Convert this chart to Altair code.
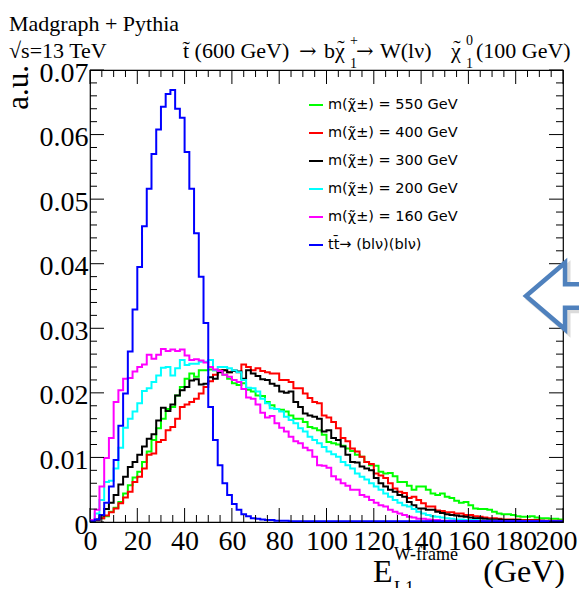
import altair as alt
import pandas as pd

# ---------------- data (2 GeV bins from 0 to 200 GeV) ----------------
bin_low = list(range(0, 200, 2))

green = [0.0001, 0.0003, 0.0006, 0.0009, 0.0016, 0.0022, 0.0031, 0.0044, 0.0057, 0.0069,
         0.0078, 0.0093, 0.0109, 0.0127, 0.0145, 0.0160, 0.0175, 0.0178, 0.0196, 0.0209,
         0.0222, 0.0230, 0.0225, 0.0235, 0.0235, 0.0236, 0.0235, 0.0233, 0.0228, 0.0222,
         0.0215, 0.0212, 0.0215, 0.0205, 0.0202, 0.0196, 0.0195, 0.0186, 0.0181, 0.0175,
         0.0174, 0.0171, 0.0165, 0.0160, 0.0160, 0.0155, 0.0147, 0.0145, 0.0142, 0.0135,
         0.0124, 0.0122, 0.0120, 0.0118, 0.0114, 0.0110, 0.0104, 0.0101, 0.0093, 0.0088,
         0.0087, 0.0078, 0.0075, 0.0076, 0.0071, 0.0062, 0.0062, 0.0056, 0.0050, 0.0055,
         0.0055, 0.0050, 0.0044, 0.0042, 0.0044, 0.0039, 0.0037, 0.0033, 0.0030, 0.0031,
         0.0026, 0.0021, 0.0020, 0.0020, 0.0019, 0.0016, 0.0013, 0.0012, 0.0012, 0.0011,
         0.0009, 0.0008, 0.0008, 0.0009, 0.0007, 0.0006, 0.0006, 0.0005, 0.0005, 0.0004]

red = [0.0001, 0.0003, 0.0006, 0.0010, 0.0015, 0.0021, 0.0029, 0.0038, 0.0047, 0.0062,
       0.0070, 0.0083, 0.0104, 0.0106, 0.0124, 0.0127, 0.0142, 0.0147, 0.0160, 0.0178,
       0.0182, 0.0186, 0.0191, 0.0199, 0.0209, 0.0218, 0.0228, 0.0235, 0.0235, 0.0232,
       0.0235, 0.0232, 0.0244, 0.0240, 0.0235, 0.0238, 0.0234, 0.0232, 0.0230, 0.0230,
       0.0220, 0.0220, 0.0217, 0.0207, 0.0207, 0.0199, 0.0192, 0.0186, 0.0184, 0.0165,
       0.0162, 0.0155, 0.0145, 0.0130, 0.0125, 0.0114, 0.0109, 0.0101, 0.0093, 0.0090,
       0.0075, 0.0072, 0.0068, 0.0060, 0.0052, 0.0047, 0.0045, 0.0037, 0.0039, 0.0034,
       0.0029, 0.0024, 0.0024, 0.0018, 0.0017, 0.0015, 0.0015, 0.0013, 0.0013, 0.0011,
       0.0011, 0.0009, 0.0008, 0.0007, 0.0006, 0.0006, 0.0005, 0.0004, 0.0004, 0.0004,
       0.0004, 0.0003, 0.0003, 0.0003, 0.0003, 0.0002, 0.0002, 0.0002, 0.0002, 0.0002]

black = [0.0001, 0.0004, 0.0010, 0.0020, 0.0030, 0.0042, 0.0058, 0.0070, 0.0085, 0.0093,
         0.0104, 0.0117, 0.0129, 0.0136, 0.0157, 0.0177, 0.0172, 0.0182, 0.0196, 0.0204,
         0.0209, 0.0219, 0.0221, 0.0213, 0.0214, 0.0224, 0.0222, 0.0232, 0.0235, 0.0232,
         0.0234, 0.0233, 0.0222, 0.0235, 0.0230, 0.0226, 0.0221, 0.0220, 0.0214, 0.0211,
         0.0202, 0.0200, 0.0202, 0.0186, 0.0178, 0.0168, 0.0165, 0.0163, 0.0160, 0.0140,
         0.0142, 0.0130, 0.0127, 0.0117, 0.0104, 0.0093, 0.0092, 0.0086, 0.0083, 0.0080,
         0.0068, 0.0060, 0.0055, 0.0050, 0.0047, 0.0042, 0.0039, 0.0031, 0.0026, 0.0021,
         0.0021, 0.0019, 0.0019, 0.0016, 0.0014, 0.0012, 0.0011, 0.0010, 0.0009, 0.0008,
         0.0007, 0.0006, 0.0006, 0.0005, 0.0004, 0.0004, 0.0004, 0.0003, 0.0003, 0.0003,
         0.0003, 0.0002, 0.0002, 0.0002, 0.0002, 0.0002, 0.0001, 0.0001, 0.0001, 0.0001]

cyan = [0.0002, 0.0013, 0.0034, 0.0062, 0.0064, 0.0083, 0.0115, 0.0146, 0.0160, 0.0171,
        0.0184, 0.0203, 0.0207, 0.0217, 0.0227, 0.0239, 0.0240, 0.0227, 0.0238, 0.0251,
        0.0243, 0.0245, 0.0245, 0.0248, 0.0248, 0.0251, 0.0235, 0.0240, 0.0240, 0.0238,
        0.0235, 0.0232, 0.0220, 0.0208, 0.0207, 0.0202, 0.0191, 0.0184, 0.0176, 0.0175,
        0.0171, 0.0163, 0.0158, 0.0153, 0.0145, 0.0140, 0.0132, 0.0127, 0.0122, 0.0116,
        0.0109, 0.0105, 0.0101, 0.0093, 0.0088, 0.0083, 0.0075, 0.0070, 0.0066, 0.0060,
        0.0055, 0.0050, 0.0044, 0.0039, 0.0034, 0.0030, 0.0026, 0.0024, 0.0020, 0.0016,
        0.0013, 0.0011, 0.0009, 0.0008, 0.0007, 0.0006, 0.0005, 0.0004, 0.0004, 0.0003,
        0.0003, 0.0003, 0.0002, 0.0002, 0.0002, 0.0002, 0.0001, 0.0001, 0.0001, 0.0001,
        0.0001, 0.0001, 0.0001, 0.0001, 0.0001, 0.0001, 0.0001, 0.0001, 0.0001, 0.0001]

magenta = [0.0003, 0.0019, 0.0055, 0.0099, 0.0130, 0.0186, 0.0204, 0.0222, 0.0223, 0.0233,
           0.0240, 0.0244, 0.0259, 0.0253, 0.0259, 0.0268, 0.0265, 0.0267, 0.0265, 0.0267,
           0.0258, 0.0251, 0.0252, 0.0250, 0.0247, 0.0240, 0.0236, 0.0234, 0.0228, 0.0225,
           0.0220, 0.0217, 0.0206, 0.0193, 0.0191, 0.0182, 0.0169, 0.0162, 0.0164, 0.0153,
           0.0146, 0.0140, 0.0132, 0.0125, 0.0122, 0.0115, 0.0111, 0.0101, 0.0088, 0.0087,
           0.0084, 0.0071, 0.0066, 0.0060, 0.0056, 0.0050, 0.0050, 0.0042, 0.0039, 0.0034,
           0.0030, 0.0026, 0.0024, 0.0019, 0.0016, 0.0013, 0.0011, 0.0008, 0.0007, 0.0005,
           0.0005, 0.0004, 0.0003, 0.0003, 0.0002, 0.0002, 0.0002, 0.0001, 0.0001, 0.0001,
           0.0001, 0.0001, 0.0001, 0.0001, 0.0001, 0.0001, 0.0001, 0.0001, 0.0001, 0.0001,
           0.0001, 0.0001, 0.0001, 0.0001, 0.0001, 0.0001, 0.0001, 0.0001, 0.0001, 0.0001]

blue = [0.0001, 0.0004, 0.0011, 0.0030, 0.0055, 0.0096, 0.0149, 0.0199, 0.0264, 0.0329,
        0.0395, 0.0458, 0.0516, 0.0570, 0.0608, 0.0643, 0.0663, 0.0669, 0.0640, 0.0626,
        0.0573, 0.0516, 0.0447, 0.0380, 0.0308, 0.0178, 0.0127, 0.0088, 0.0060, 0.0042,
        0.0028, 0.0019, 0.0012, 0.0009, 0.0006, 0.0005, 0.0004, 0.0003, 0.0003, 0.0002,
        0.0002, 0.0002, 0.0001, 0.0001, 0.0001, 0.0001, 0.0001, 0.0001, 0.0001, 0.0001,
        0.0001, 0.0001, 0.0001, 0.0001, 0.0001, 0.0001, 0.0001, 0.0001, 0.0001, 0.0001,
        0.0001, 0.0001, 0.0001, 0.0001, 0.0001, 0.0001, 0.0001, 0.0001, 0.0001, 0.0001,
        0.0001, 0.0001, 0.0001, 0.0001, 0.0001, 0.0001, 0.0001, 0.0001, 0.0001, 0.0001,
        0.0001, 0.0001, 0.0001, 0.0001, 0.0001, 0.0001, 0.0001, 0.0001, 0.0001, 0.0001,
        0.0001, 0.0001, 0.0001, 0.0001, 0.0001, 0.0001, 0.0001, 0.0001, 0.0001, 0.0001]

names = ["m(χ̃±) = 550 GeV", "m(χ̃±) = 400 GeV", "m(χ̃±) = 300 GeV",
         "m(χ̃±) = 200 GeV", "m(χ̃±) = 160 GeV", "tt̄→ (blν)(blν)"]
colors = ["#00ff00", "#ff0000", "#000000", "#00ffff", "#ff00ff", "#0000ff"]
series_values = [green, red, black, cyan, magenta, blue]

x_major = [0, 20, 40, 60, 80, 100, 120, 140, 160, 180, 200]
x_minor = [v for v in range(0, 201, 5) if v % 20 != 0]
y_major = [0, 0.01, 0.02, 0.03, 0.04, 0.05, 0.06, 0.07]
y_minor = [round(i * 0.002, 3) for i in range(36) if i % 5 != 0]

# ---------------- build table ----------------
rows = []
for k, (name, vals) in enumerate(zip(names, series_values)):
    for lo, v in zip(bin_low, vals):
        rows.append({"x": lo, "y": v, "series": name, "k": k})
    rows.append({"x": 200, "y": vals[-1], "series": name, "k": k})
df = pd.DataFrame(rows)

W, H = 473, 452
SERIF = "Liberation Serif"
SANS = "DejaVu Sans"

xs = alt.Scale(domain=[0, 200], nice=False, zero=False)
ys = alt.Scale(domain=[0, 0.07], nice=False)

xaxis = alt.Axis(values=x_major, ticks=False, domain=False, grid=False,
                 labelFont=SERIF, labelFontSize=28, labelPadding=5,
                 labelOffset={"condition": {"test": "datum.value == 200", "value": -7}, "value": 0},
                 labelColor="black", labelFlush=False, labelOverlap=False)
yaxis = alt.Axis(values=y_major, ticks=False, domain=False, grid=False,
                 labelFont=SERIF, labelFontSize=28, labelPadding=2, labelOffset=3,
                 labelColor="black", labelFlush=False, labelOverlap=False,
                 labelExpr="datum.value == 0 ? '0' : format(datum.value, '.2f')")
legend = alt.Legend(title=None, orient="none", legendX=218, legendY=27,
                    symbolType="stroke", symbolSize=196, symbolStrokeWidth=2,
                    labelFont=SANS, labelFontSize=14.5, labelColor="black",
                    labelOffset=4, rowPadding=13, labelLimit=300, padding=0)
color = alt.Color("series:N", scale=alt.Scale(domain=names, range=colors), legend=legend)


def hist_layer(k):
    return alt.Chart(df).transform_filter(alt.datum.k == k).mark_line(
        interpolate="step-after", strokeWidth=2, clip=True
    ).encode(
        x=alt.X("x:Q", scale=xs, axis=xaxis, title=None),
        y=alt.Y("y:Q", scale=ys, axis=yaxis, title=None),
        color=color,
    )


def xticks(vals, length, top):
    y0 = 0 if top else H
    y1 = length if top else H - length
    return alt.Chart(pd.DataFrame({"v": vals})).mark_rule(color="black", strokeWidth=1).encode(
        x=alt.X("v:Q", scale=xs, axis=xaxis, title=None), y=alt.value(y0), y2=alt.value(y1))


def yticks(vals, length, right):
    x0 = W if right else 0
    x1 = W - length if right else length
    return alt.Chart(pd.DataFrame({"v": vals})).mark_rule(color="black", strokeWidth=1).encode(
        y=alt.Y("v:Q", scale=ys, axis=yaxis, title=None), x=alt.value(x0), x2=alt.value(x1))


def label(text, x, y, size, align="left", font=SERIF, angle=0, baseline="alphabetic"):
    props = dict(align=align, baseline=baseline, font=font, fontSize=size, color="black")
    if angle:
        props["angle"] = angle
    return alt.Chart(pd.DataFrame({"t": [text]})).mark_text(**props).encode(
        text="t:N", x=alt.value(x), y=alt.value(y))


ticks = [xticks(x_major, 14, False), xticks(x_minor, 7, False),
         xticks(x_major, 14, True), xticks(x_minor, 7, True),
         yticks(y_major, 14, False), yticks(y_minor, 7, False),
         yticks(y_major, 14, True), yticks(y_minor, 7, True)]

texts = [
    label("Madgraph + Pythia", -81, -39, 22),
    label("√s=13 TeV", -81, -12, 22),
    label("t̃ (600 GeV)", 93, -12, 22),
    label("→", 209, -12, 21, font="DejaVu Serif"),
    label("b", 234, -12, 22),
    label("χ", 245, -12, 22),
    label("˜", 251, -15, 22, align="center"),
    label("+", 260, -25, 14),
    label("1", 260, -2, 14),
    label("→", 266, -12, 21, font="DejaVu Serif"),
    label("W(lν)", 290, -12, 22),
    label("χ", 361, -12, 22),
    label("˜", 367, -15, 22, align="center"),
    label("0", 376, -25, 14),
    label("1", 376, -2, 14),
    label("(100 GeV)", 386, -12, 22),
    label("a.u.", -62, -5, 31, align="right", angle=270),
    label("E", 283, 512, 32),
    label("W-frame", 304, 490, 18),
    label("L1", 304, 524, 18),
    label("(GeV)", W + 2, 512, 32, align="right"),
]

arrow_path = "M -1 0 L -0.133 -0.74 L -0.133 -0.26 L 1 -0.26 L 1 0.26 L -0.133 0.26 L -0.133 0.74 Z"
arrow_shadow = alt.Chart(pd.DataFrame({"a": [0]})).mark_point(
    shape=arrow_path, size=8100, filled=False, stroke="#8c8c8c", strokeWidth=5,
    opacity=0.3, strokeJoin="miter"
).encode(x=alt.value(484), y=alt.value(229))
arrow = alt.Chart(pd.DataFrame({"a": [0]})).mark_point(
    shape=arrow_path, size=8100, filled=True, fill="white", stroke="#4f81bd",
    strokeWidth=4.5, opacity=1, fillOpacity=1, strokeOpacity=1, strokeJoin="miter"
).encode(x=alt.value(481), y=alt.value(226))

hists = [hist_layer(k) for k in range(6)]

chart = alt.layer(*hists, *ticks, *texts, arrow_shadow, arrow).properties(
    width=W, height=H,
    padding={"left": 82, "top": 62, "right": 16, "bottom": 66},
    autosize=alt.AutoSizeParams(type="none"),
    background="white",
).configure_view(stroke="black", strokeWidth=1.2)

chart.save("out.html", embed_options={"renderer": "svg", "actions": False})
